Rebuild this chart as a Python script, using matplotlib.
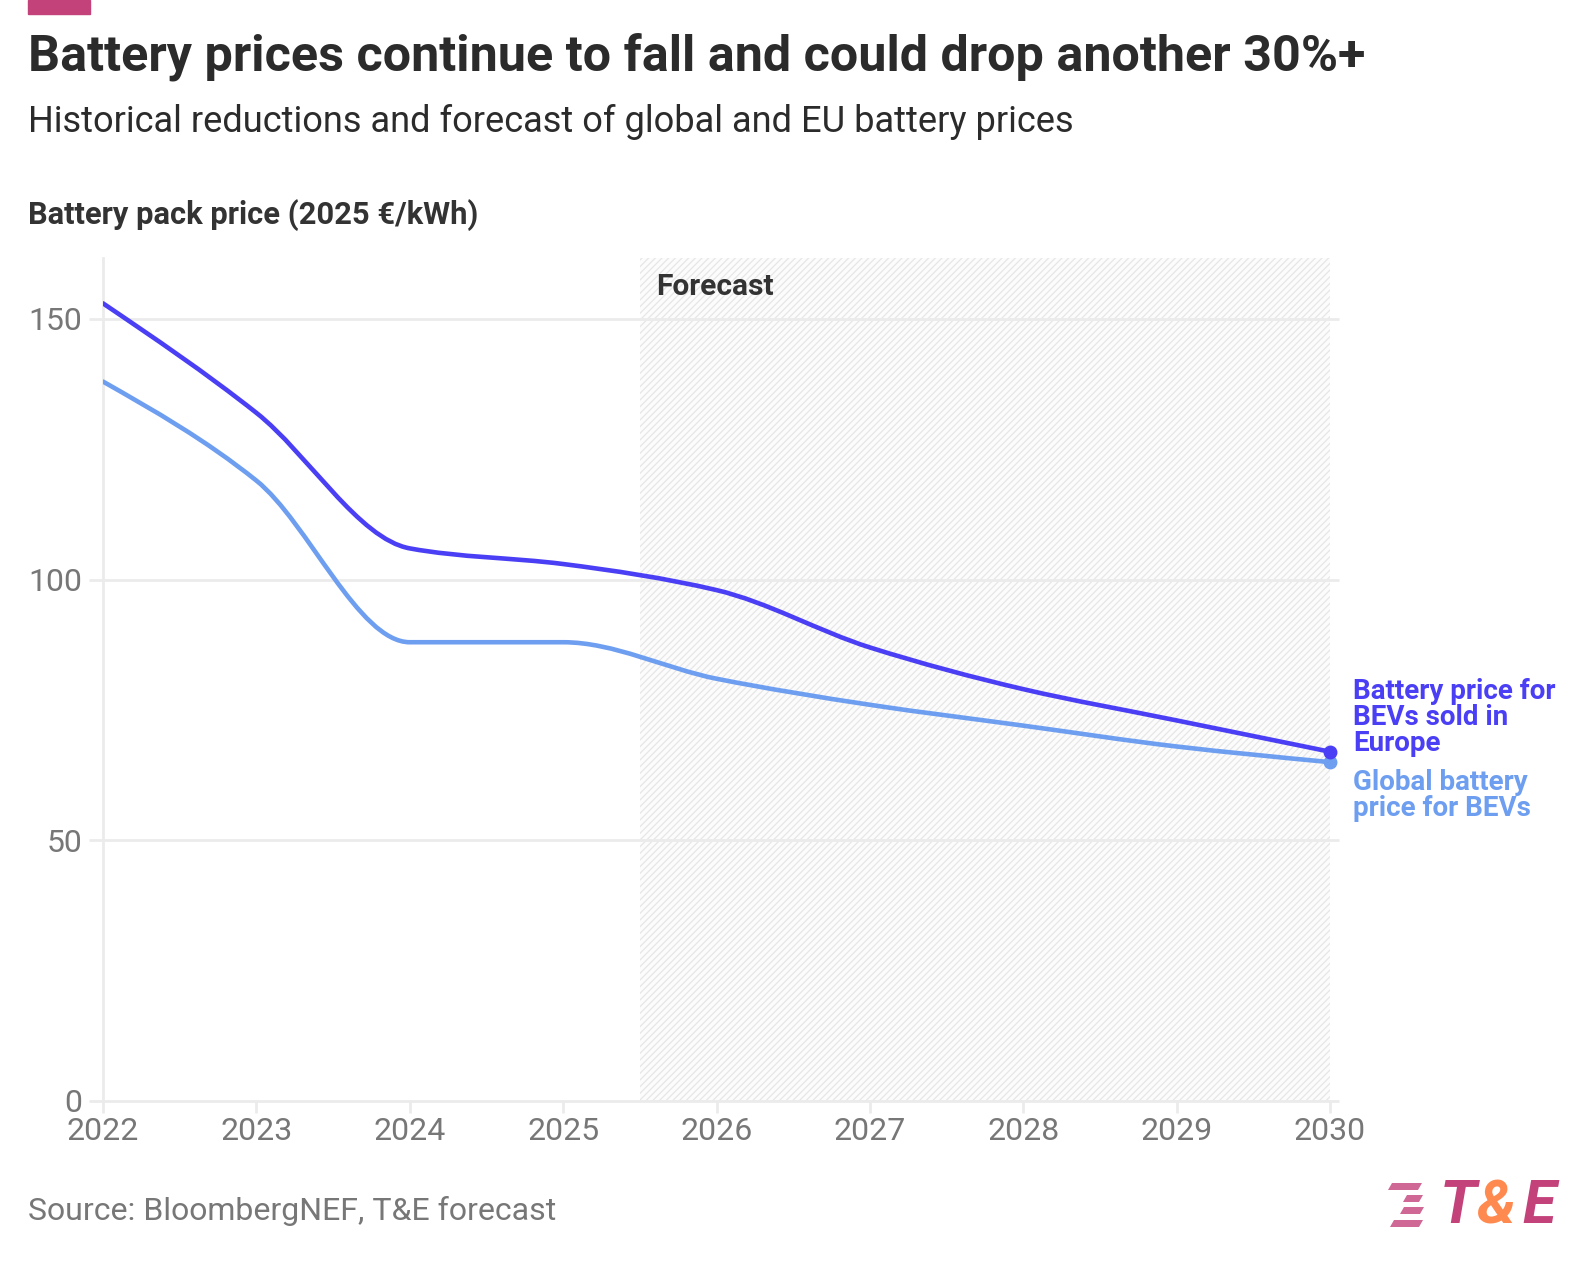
import matplotlib
matplotlib.use("Agg")
import matplotlib.pyplot as plt
from matplotlib.path import Path
from matplotlib.patches import PathPatch, Rectangle, Polygon
import numpy as np

plt.rcParams['font.family'] = ['Roboto', 'DejaVu Sans']
plt.rcParams['hatch.linewidth'] = 0.9

years = [2022, 2023, 2024, 2025, 2026, 2027, 2028, 2029, 2030]
europe = [153, 132, 106, 103, 98, 87, 79, 73, 67]
global_ = [138, 119, 88, 88, 81, 76, 72, 68, 65]
yticks = [0, 50, 100, 150]
forecast_start = 2025.5

title = "Battery prices continue to fall and could drop another 30%+"
subtitle = "Historical reductions and forecast of global and EU battery prices"
ylabel = "Battery pack price (2025 \u20ac/kWh)"
source = "Source: BloombergNEF, T&E forecast"
label_eu = "Battery price for\nBEVs sold in\nEurope"
label_gl = "Global battery\nprice for BEVs"

C_EU = '#4a3ff4'
C_GL = '#6e9ef0'
GRID = '#ebebeb'
TICK = '#777777'
PINK = '#c3427a'
ORANGE = '#ff8a50'

W, H = 1588, 1266


def monotone_path(x, y):
    x = np.asarray(x, float); y = np.asarray(y, float)
    n = len(x)
    h = np.diff(x); d = np.diff(y) / h
    m = np.zeros(n)
    for i in range(1, n - 1):
        if d[i - 1] * d[i] <= 0:
            m[i] = 0
        else:
            w1 = 2 * h[i] + h[i - 1]; w2 = h[i] + 2 * h[i - 1]
            m[i] = (w1 + w2) / (w1 / d[i - 1] + w2 / d[i])
    m[0] = (3 * d[0] - m[1]) / 2
    m[-1] = (3 * d[-1] - m[-2]) / 2
    verts = [(x[0], y[0])]; codes = [Path.MOVETO]
    for i in range(n - 1):
        dx = h[i] / 3
        verts += [(x[i] + dx, y[i] + m[i] * dx), (x[i + 1] - dx, y[i + 1] - m[i + 1] * dx), (x[i + 1], y[i + 1])]
        codes += [Path.CURVE4] * 3
    return Path(verts, codes)


def fx(px):
    return px / W


def fy(py):
    return 1 - py / H


fig = plt.figure(figsize=(W / 100, H / 100), dpi=100)
ax = fig.add_axes([fx(103), fy(1101), (1330 - 103) / W, (1101 - 258) / H])
ax.set_xlim(years[0], years[-1])
ax.set_ylim(0, 161.7)

# forecast shading
ax.axvspan(forecast_start, years[-1], facecolor='#fcfcfc', edgecolor='#e6e6e6', hatch='/////', linewidth=0, zorder=0)
ax.annotate("Forecast", xy=(forecast_start, 156.2), xytext=(12, 0), textcoords='offset points',
            fontsize=21.5, fontweight='bold', color='#333333', ha='left', va='center')

# grid
for v in yticks:
    ax.plot([-0.0114, 1.0073], [v, v], transform=ax.get_yaxis_transform(), color=GRID, lw=2.0,
            clip_on=False, zorder=1, solid_capstyle='butt')
ax.plot([0, 0], [0, 1], transform=ax.transAxes, color=GRID, lw=2.0, clip_on=False, zorder=1)

for s in ax.spines.values():
    s.set_visible(False)
ax.set_yticks(yticks)
ax.set_xticks(years)
ax.tick_params(axis='y', length=0, labelsize=23, labelcolor=TICK, pad=15)
ax.tick_params(axis='x', length=8.5, width=2, color=GRID, labelsize=23, labelcolor=TICK, pad=3)

for ys, c in [(global_, C_GL), (europe, C_EU)]:
    ax.add_patch(PathPatch(monotone_path(years, ys), facecolor='none', edgecolor=c, lw=3.3,
                           capstyle='round', joinstyle='round', zorder=3))
    ax.plot([years[-1]], [ys[-1]], 'o', color=c, ms=9, zorder=4, clip_on=False)

ax.annotate(label_eu, xy=(years[-1], europe[-1]), xytext=(16.5, 24.5), textcoords='offset points',
            fontsize=20, fontweight='bold', color=C_EU, ha='left', va='center', linespacing=0.95,
            annotation_clip=False)
ax.annotate(label_gl, xy=(years[-1], global_[-1]), xytext=(16.5, -24), textcoords='offset points',
            fontsize=20, fontweight='bold', color=C_GL, ha='left', va='center', linespacing=0.95,
            annotation_clip=False)

# header texts
fig.patches.append(Rectangle((fx(28), fy(13.5)), 62 / W, 13.5 / H, transform=fig.transFigure, color=PINK))
fig.text(fx(28), fy(57), title, fontsize=36.2, fontweight='bold', color='#2b2b2b', ha='left', va='center')
fig.text(fx(28), fy(122), subtitle, fontsize=26.1, color='#2b2b2b', ha='left', va='center')
fig.text(fx(28), fy(215), ylabel, fontsize=22.2, fontweight='bold', color='#333333', ha='left', va='center')
fig.text(fx(28), fy(1211), source, fontsize=23, color=TICK, ha='left', va='center')

# logo
stripes = [(1183, 1390, 1420), (1195, 1405, 1421), (1207, 1402, 1422), (1220, 1392, 1421)]
for yt, x0, x1 in stripes:
    hgt = 7
    slant = 2
    pts = [(x0 + slant, yt), (x1 + slant, yt), (x1 - slant, yt + hgt), (x0 - slant, yt + hgt)]
    fig.patches.append(Polygon([(fx(a), fy(b)) for a, b in pts], closed=True,
                               transform=fig.transFigure, color=PINK, alpha=0.8, lw=0))
for ch, xp, col in [("T", 1440, PINK), ("&", 1476, ORANGE), ("E", 1522, PINK)]:
    fig.text(fx(xp), fy(1206), ch, fontsize=44, fontweight='bold', style='italic', color=col,
             ha='left', va='center')

fig.savefig("out.png", dpi=100, facecolor='white')
